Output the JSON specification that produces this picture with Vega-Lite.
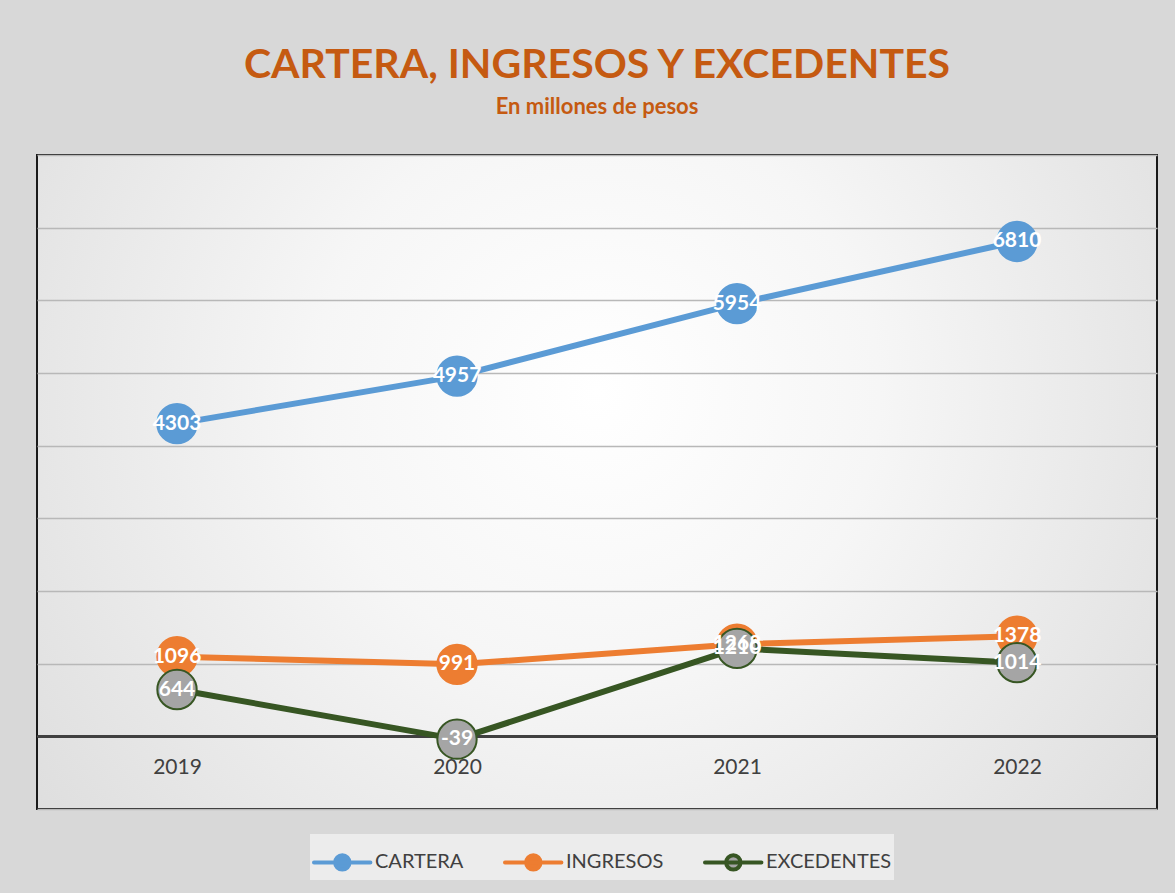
{
  "$schema": "https://vega.github.io/schema/vega-lite/v6.json",
  "width": 1120,
  "height": 654,
  "autosize": {"type": "none"},
  "padding": {"left": 37, "top": 155, "right": 18, "bottom": 84},
  "background": "#d8d8d8",
  "title": {
    "text": "CARTERA, INGRESOS Y EXCEDENTES",
    "subtitle": "En millones de pesos",
    "anchor": "middle",
    "frame": "group",
    "font": "Lato",
    "fontSize": 41,
    "fontWeight": "bold",
    "color": "#c55a11",
    "subtitleFont": "Lato",
    "subtitleFontSize": 22,
    "subtitleFontWeight": "bold",
    "subtitleColor": "#c55a11",
    "subtitlePadding": 10,
    "offset": 36
  },
  "config": {
    "view": {
      "stroke": "#1a1a1a",
      "strokeWidth": 2,
      "fill": {
        "gradient": "radial",
        "x1": 0.5, "y1": 0.42, "r1": 0,
        "x2": 0.5, "y2": 0.42, "r2": 0.72,
        "stops": [
          {"offset": 0, "color": "#ffffff"},
          {"offset": 0.35, "color": "#f6f6f6"},
          {"offset": 1, "color": "#d8d8d8"}
        ]
      }
    }
  },
  "data": {
    "values": [
      {"year": "2019", "series": "CARTERA", "value": 4303},
      {"year": "2020", "series": "CARTERA", "value": 4957},
      {"year": "2021", "series": "CARTERA", "value": 5954},
      {"year": "2022", "series": "CARTERA", "value": 6810},
      {"year": "2019", "series": "INGRESOS", "value": 1096},
      {"year": "2020", "series": "INGRESOS", "value": 991},
      {"year": "2021", "series": "INGRESOS", "value": 1268},
      {"year": "2022", "series": "INGRESOS", "value": 1378},
      {"year": "2019", "series": "EXCEDENTES", "value": 644},
      {"year": "2020", "series": "EXCEDENTES", "value": -39},
      {"year": "2021", "series": "EXCEDENTES", "value": 1210},
      {"year": "2022", "series": "EXCEDENTES", "value": 1014}
    ]
  },
  "encoding": {
    "x": {
      "field": "year",
      "type": "ordinal",
      "scale": {"type": "point", "padding": 0.5},
      "axis": {
        "title": null,
        "offset": -73,
        "domain": true,
        "domainColor": "#404040",
        "domainWidth": 3,
        "ticks": false,
        "grid": false,
        "labelAngle": 0,
        "labelFont": "Lato",
        "labelFontSize": 21,
        "labelColor": "#404040",
        "labelPadding": 20
      }
    },
    "y": {
      "field": "value",
      "type": "quantitative",
      "scale": {"domain": [-1000, 8000], "nice": false, "zero": false},
      "axis": {
        "title": null,
        "labels": false,
        "ticks": false,
        "domain": false,
        "grid": true,
        "gridColor": "#b8b8b8",
        "gridWidth": 1.5,
        "values": [-1000, 0, 1000, 2000, 3000, 4000, 5000, 6000, 7000, 8000]
      }
    }
  },
  "layer": [
    {
      "mark": {"type": "line", "strokeWidth": 6, "strokeCap": "round", "strokeJoin": "round"},
      "encoding": {
        "stroke": {
          "field": "series",
          "type": "nominal",
          "scale": {"domain": ["CARTERA", "INGRESOS", "EXCEDENTES"], "range": ["#5b9bd5", "#ed7d31", "#375623"]},
          "legend": {
            "title": null,
            "orient": "none",
            "legendX": 273,
            "legendY": 679,
            "direction": "horizontal",
            "symbolType": "M-1,0H1.35M0.48,0A0.3,0.3,0,1,1,-0.12,0A0.3,0.3,0,1,1,0.48,0Z",
            "symbolSize": 2304,
            "symbolStrokeWidth": 4,
            "labelFont": "Lato",
            "labelFontSize": 20,
            "labelColor": "#404040",
            "labelOffset": 11,
            "columnPadding": 33,
            "fillColor": "#ececec",
            "padding": 2,
            "encode": {
              "symbols": {
                "update": {
                  "fill": {"signal": "datum.value === 'EXCEDENTES' ? '#a5a5a5' : scale('stroke', datum.value)"},
                  "stroke": {"signal": "scale('stroke', datum.value)"},
                  "strokeWidth": {"value": 4},
                  "strokeCap": {"value": "round"},
                  "opacity": {"value": 1}
                }
              }
            }
          }
        },
        "detail": {"field": "series"}
      }
    },
    {
      "mark": {"type": "point", "filled": true, "size": 1550, "strokeWidth": 2, "opacity": 1},
      "encoding": {
        "fill": {
          "field": "series",
          "type": "nominal",
          "scale": {"domain": ["CARTERA", "INGRESOS", "EXCEDENTES"], "range": ["#5b9bd5", "#ed7d31", "#a5a5a5"]},
          "legend": null
        },
        "stroke": {
          "field": "series",
          "type": "nominal",
          "scale": {"domain": ["CARTERA", "INGRESOS", "EXCEDENTES"], "range": ["#5b9bd5", "#ed7d31", "#375623"]}
        }
      }
    },
    {
      "mark": {"type": "text", "color": "#ffffff", "font": "Lato", "fontSize": 21, "fontWeight": "bold", "baseline": "middle", "align": "center"},
      "encoding": {"text": {"field": "value", "type": "nominal"}}
    }
  ]
}
